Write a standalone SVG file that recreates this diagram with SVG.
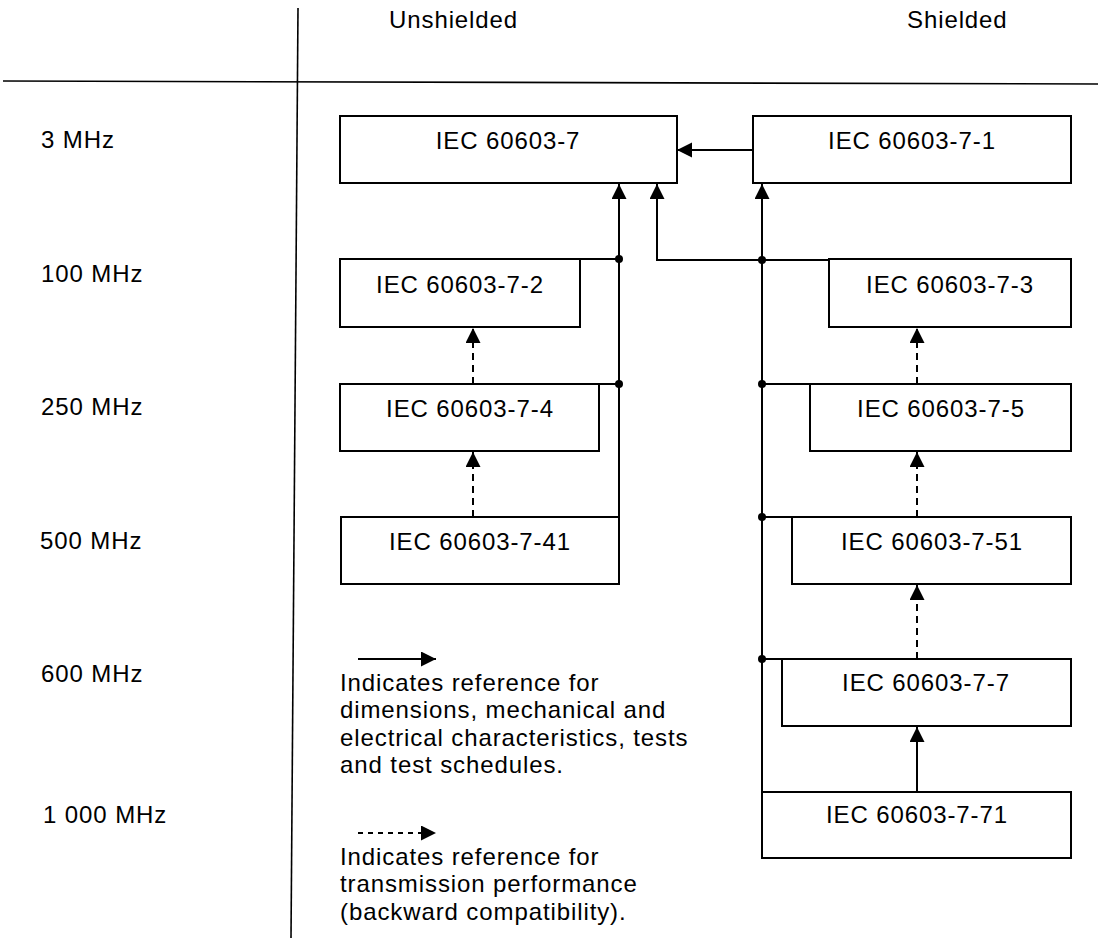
<svg xmlns="http://www.w3.org/2000/svg" width="1101" height="941" viewBox="0 0 1101 941">
<style>
text{font-family:"Liberation Sans",Arial,sans-serif;font-size:24px;letter-spacing:0.9px;fill:#000}
.box{fill:#fff;stroke:#000;stroke-width:2}
.c{text-anchor:middle}
.ln{fill:none;stroke:#000;stroke-width:2}
.ds{fill:none;stroke:#000;stroke-width:2;stroke-dasharray:7 5}
.axis{fill:none;stroke:#000;stroke-width:1.6}
</style>
<defs>
<marker id="ah" markerUnits="userSpaceOnUse" markerWidth="16" markerHeight="16" refX="15" refY="7.5" orient="auto">
<path d="M0,0 L15,7.5 L0,15 z" fill="#000"/>
</marker>
</defs>
<g id="axes">
<line class="axis" x1="298" y1="8" x2="291" y2="938"/>
<line class="axis" x1="3" y1="81" x2="1098" y2="84"/>
<text x="389" y="28">Unshielded</text>
<text x="907" y="28">Shielded</text>
<text x="41" y="148">3 MHz</text>
<text x="41" y="282">100 MHz</text>
<text x="41" y="415">250 MHz</text>
<text x="40" y="549">500 MHz</text>
<text x="41" y="682">600 MHz</text>
<text x="43" y="823">1 000 MHz</text>
</g>
<g id="connectors">
<line class="ln" x1="753" y1="150" x2="677" y2="150" marker-end="url(#ah)"/>
<polyline class="ln" points="619,517 619,184" marker-end="url(#ah)"/>
<line class="ln" x1="580" y1="259" x2="619" y2="259"/>
<line class="ln" x1="599" y1="384" x2="619" y2="384"/>
<polyline class="ln" points="762,260 657,260 657,184" marker-end="url(#ah)"/>
<polyline class="ln" points="762,792 762,184" marker-end="url(#ah)"/>
<line class="ln" x1="762" y1="260" x2="829" y2="260"/>
<line class="ln" x1="762" y1="384" x2="810" y2="384"/>
<line class="ln" x1="762" y1="517" x2="792" y2="517"/>
<line class="ln" x1="762" y1="659" x2="782" y2="659"/>
<line class="ds" x1="473" y1="517" x2="473" y2="452" marker-end="url(#ah)"/>
<line class="ds" x1="473" y1="384" x2="473" y2="328" marker-end="url(#ah)"/>
<line class="ds" x1="917" y1="384" x2="917" y2="328" marker-end="url(#ah)"/>
<line class="ds" x1="917" y1="517" x2="917" y2="452" marker-end="url(#ah)"/>
<line class="ds" x1="917" y1="659" x2="917" y2="585" marker-end="url(#ah)"/>
<line class="ln" x1="917" y1="792" x2="917" y2="727" marker-end="url(#ah)"/>
<circle cx="619" cy="259" r="4"/>
<circle cx="619" cy="384" r="4"/>
<circle cx="762" cy="260" r="4"/>
<circle cx="762" cy="384" r="4"/>
<circle cx="762" cy="517" r="4"/>
<circle cx="762" cy="659" r="4"/>
</g>
<g id="n7"><rect class="box" x="340" y="116" width="337" height="67"/><text class="c" x="508" y="149">IEC 60603-7</text></g>
<g id="n71"><rect class="box" x="753" y="116" width="318" height="67"/><text class="c" x="912" y="149">IEC 60603-7-1</text></g>
<g id="n72"><rect class="box" x="340" y="259" width="240" height="68"/><text class="c" x="460" y="293">IEC 60603-7-2</text></g>
<g id="n73"><rect class="box" x="829" y="259" width="242" height="68"/><text class="c" x="950" y="293">IEC 60603-7-3</text></g>
<g id="n74"><rect class="box" x="340" y="384" width="259" height="67"/><text class="c" x="470" y="417">IEC 60603-7-4</text></g>
<g id="n75"><rect class="box" x="810" y="384" width="261" height="67"/><text class="c" x="941" y="417">IEC 60603-7-5</text></g>
<g id="n741"><rect class="box" x="341" y="517" width="278" height="67"/><text class="c" x="480" y="550">IEC 60603-7-41</text></g>
<g id="n751"><rect class="box" x="792" y="517" width="279" height="67"/><text class="c" x="932" y="550">IEC 60603-7-51</text></g>
<g id="n77"><rect class="box" x="782" y="659" width="289" height="67"/><text class="c" x="926" y="691">IEC 60603-7-7</text></g>
<g id="n771"><rect class="box" x="762" y="792" width="309" height="66"/><text class="c" x="917" y="823">IEC 60603-7-71</text></g>
<g id="legend">
<line class="ln" x1="358" y1="659" x2="436" y2="659" marker-end="url(#ah)"/>
<text x="340" y="691">Indicates reference for</text>
<text x="340" y="718">dimensions, mechanical and</text>
<text x="340" y="746">electrical characteristics, tests</text>
<text x="340" y="773">and test schedules.</text>
<line x1="358" y1="833" x2="436" y2="833" stroke="#000" stroke-width="2" stroke-dasharray="5 5" marker-end="url(#ah)"/>
<text x="340" y="865">Indicates reference for</text>
<text x="340" y="892">transmission performance</text>
<text x="340" y="920">(backward compatibility).</text>
</g>
</svg>
